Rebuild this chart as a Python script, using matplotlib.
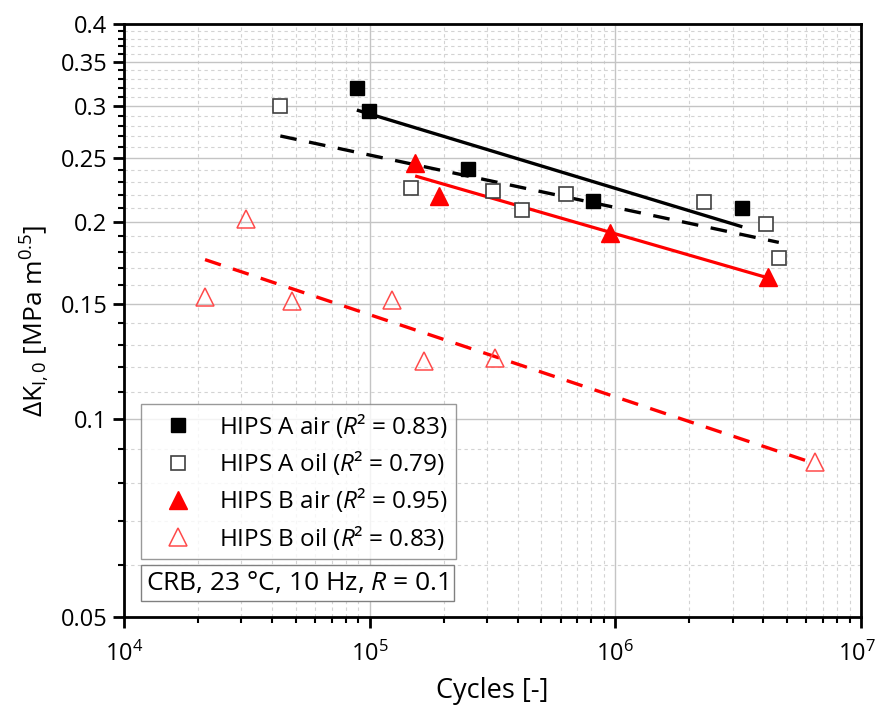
import numpy as np
import matplotlib
matplotlib.use("Agg")
import matplotlib.pyplot as plt
from matplotlib.ticker import FixedLocator, FuncFormatter, LogLocator, NullFormatter
from matplotlib.lines import Line2D
from matplotlib.transforms import ScaledTranslation

plt.rcParams['font.family'] = ['Open Sans', 'DejaVu Sans']
plt.rcParams['mathtext.fontset'] = 'custom'
plt.rcParams['mathtext.rm'] = 'Open Sans'
plt.rcParams['mathtext.it'] = 'Open Sans:italic'
plt.rcParams['mathtext.bf'] = 'Open Sans:bold'

# ---- data ----
a_air_x = [88700, 99800, 251000, 808000, 3290000]
a_air_y = [0.320, 0.295, 0.241, 0.215, 0.210]

a_oil_x = [43300, 147200, 317600, 416900, 627500, 2289000, 4110000, 4630000]
a_oil_y = [0.300, 0.225, 0.2224, 0.2083, 0.2206, 0.2140, 0.1985, 0.1758]

b_air_x = [153200, 192400, 954000, 4190000]
b_air_y = [0.2457, 0.2185, 0.1921, 0.165]

b_oil_x = [21380, 31400, 48330, 123500, 165700, 324500, 6480000]
b_oil_y = [0.1538, 0.2018, 0.1515, 0.152, 0.1227, 0.1242, 0.0862]

labels = ["HIPS A air", "HIPS A oil", "HIPS B air", "HIPS B oil"]
r2 = ["0.83", "0.79", "0.95", "0.83"]
y_major = [0.05, 0.1, 0.15, 0.2, 0.25, 0.3, 0.35, 0.4]
y_minor = [0.06, 0.07, 0.08, 0.09, 0.11, 0.12, 0.13, 0.14, 0.16, 0.17, 0.18, 0.19,
           0.21, 0.22, 0.23, 0.24, 0.26, 0.27, 0.28, 0.29, 0.31, 0.32, 0.33, 0.34,
           0.36, 0.37, 0.38, 0.39]
x_major = [1e4, 1e5, 1e6, 1e7]
note = "CRB, 23 °C, 10 Hz, $R$ = 0.1"

fig = plt.figure(figsize=(8.78, 7.09), dpi=100)
ax = fig.add_axes([0.1412, 0.1298, 0.8394, 0.8363])
ax.set_xscale('log')
ax.set_yscale('log')


def fit_line(x, y):
    lx, ly = np.log10(x), np.log10(y)
    k, d = np.polyfit(lx, ly, 1)
    xs = np.array([min(x), max(x)])
    return xs, 10 ** (d + k * np.log10(xs))


red = '#ff0000'
orange_red = '#ff4a4a'

# fit lines
xs, ys = fit_line(a_air_x, a_air_y)
ax.plot(xs, ys, color='black', lw=2.4, zorder=3, solid_capstyle='butt')
xs, ys = fit_line(a_oil_x, a_oil_y)
ax.plot(xs, ys, color='black', lw=2.4, dashes=(5.0, 3.8), zorder=3)
xs, ys = fit_line(b_air_x, b_air_y)
ax.plot(xs, ys, color=red, lw=2.3, zorder=3, solid_capstyle='butt')
xs, ys = fit_line(b_oil_x, b_oil_y)
ax.plot(xs, ys, color=red, lw=2.4, dashes=(5.0, 3.8), zorder=3)

# markers
ax.plot(a_air_x, a_air_y, 's', ms=9.5, mfc='black', mec='black', mew=1, ls='none', zorder=4)
ax.plot(a_oil_x, a_oil_y, 's', ms=9.5, mfc='white', mec='#404040', mew=1.2, ls='none', zorder=4)
ax.plot(b_air_x, b_air_y, '^', ms=12.5, mfc=red, mec=red, mew=1, ls='none', zorder=4)
ax.plot(b_oil_x, b_oil_y, '^', ms=12.5, mfc='none', mec=orange_red, mew=1.1, ls='none', zorder=4)

# axes
ax.set_xlim(1e4, 1e7)
ax.set_ylim(0.05, 0.4)
ax.yaxis.set_major_locator(FixedLocator(y_major))
ax.yaxis.set_minor_locator(FixedLocator(y_minor))
ax.yaxis.set_major_formatter(FuncFormatter(lambda v, p: f"{v:g}"))
ax.yaxis.set_minor_formatter(NullFormatter())
ax.xaxis.set_major_locator(FixedLocator(x_major))
ax.xaxis.set_minor_locator(LogLocator(base=10, subs=np.arange(2, 10)))
ax.xaxis.set_major_formatter(FuncFormatter(lambda v, p: r"$10^{%d}$" % round(np.log10(v))))
ax.xaxis.set_minor_formatter(NullFormatter())

ax.grid(which='major', color='#c4c4c4', lw=1.0, ls='-', zorder=0)
ax.grid(which='minor', color='#d3d3d3', lw=0.8, ls=(0, (3, 3)), zorder=0)
ax.set_axisbelow(True)

for s in ax.spines.values():
    s.set_linewidth(2.0)
    s.set_color('black')
ax.tick_params(which='major', direction='out', length=8, width=2, labelsize=17,
               top=False, right=False, pad=4)
ax.tick_params(which='minor', direction='out', length=4.5, width=1.5, top=False, right=False)
ax.tick_params(axis='x', which='major', pad=10)

ax.set_xlabel("Cycles [-]", fontsize=19.5, labelpad=7)
ax.set_ylabel(r"ΔK$_{\mathrm{I,0}}$ [MPa m$^{0.5}$]", fontsize=19, labelpad=6)

# legend
handles = [
    Line2D([], [], marker='s', ms=9.5, mfc='black', mec='black', ls='none'),
    Line2D([], [], marker='s', ms=9.5, mfc='white', mec='#404040', mew=1.2, ls='none'),
    Line2D([], [], marker='^', ms=12.5, mfc=red, mec=red, ls='none'),
    Line2D([], [], marker='^', ms=12.5, mfc='none', mec=orange_red, mew=1.1, ls='none'),
]
leg_labels = [f"{l} ($R$² = {r})" for l, r in zip(labels, r2)]
leg = ax.legend(handles, leg_labels, loc='upper left', bbox_to_anchor=(0.023, 0.359),
                fontsize=17.5, frameon=True, fancybox=False, borderpad=0.32,
                labelspacing=0.38, handletextpad=0.5, handlelength=2.4,
                borderaxespad=0)
leg.get_frame().set_edgecolor('#808080')
leg.get_frame().set_linewidth(1.0)
leg.set_zorder(6)

ax.text(0.0305, 0.057, note, transform=ax.transAxes, fontsize=19, ha='left', va='center',
        zorder=6,
        bbox=dict(boxstyle='square,pad=0.2', fc='white', ec='#808080', lw=1.0))

# keep the last x tick label inside the canvas
fig.canvas.draw()
last = ax.xaxis.get_major_ticks()[-1].label1
last.set_transform(last.get_transform() + ScaledTranslation(-4 / 100, 0, fig.dpi_scale_trans))

fig.savefig("out.png", dpi=100)
